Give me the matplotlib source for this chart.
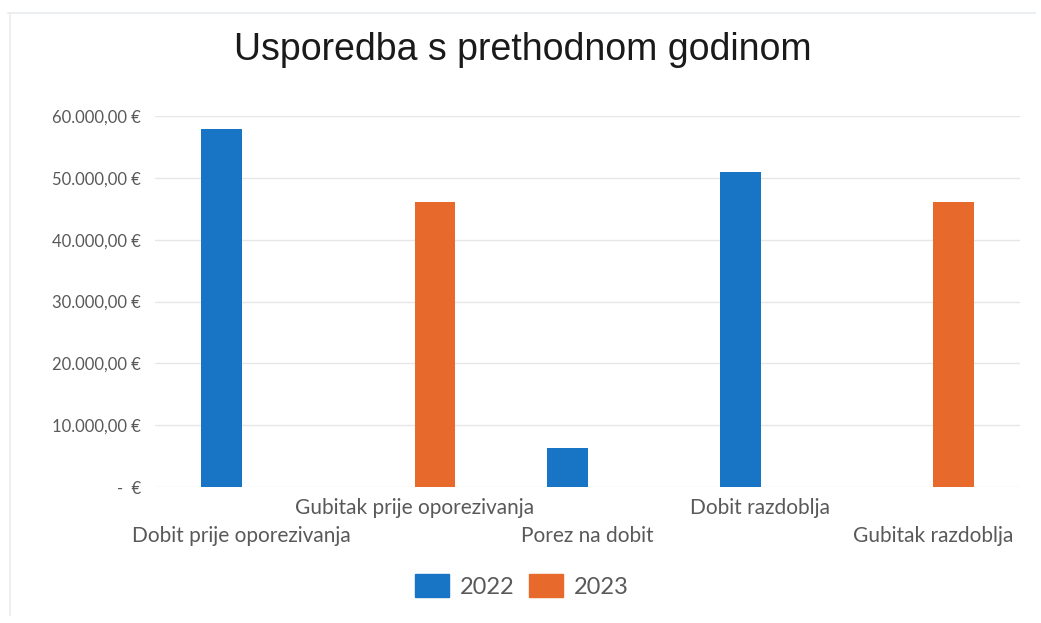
import matplotlib.pyplot as plt
import matplotlib.transforms as mtransforms
from matplotlib.patches import Rectangle
from matplotlib.lines import Line2D
import numpy as np

categories = ["Dobit prije oporezivanja", "Gubitak prije oporezivanja", "Porez na dobit",
              "Dobit razdoblja", "Gubitak razdoblja"]
series_names = ["2022", "2023"]
values_2022 = [57850, 0, 6360, 50990, 0]
values_2023 = [0, 46040, 0, 0, 46040]
y_ticks = [0, 10000, 20000, 30000, 40000, 50000, 60000]
y_tick_labels = ["-  €", "10.000,00 €", "20.000,00 €", "30.000,00 €", "40.000,00 €",
                 "50.000,00 €", "60.000,00 €"]
title = "Usporedba s prethodnom godinom"

blue = "#1874c4"
orange = "#e8692c"
W, H = 1041, 623
fig = plt.figure(figsize=(W / 100, H / 100), dpi=100)
fig.patch.set_facecolor("white")

ax = fig.add_axes([155 / W, 1 - 487 / H, (1020 - 155) / W, (487 - 116) / H])
x = np.arange(len(categories))
bw = 0.235
ax.bar(x - bw / 2, values_2022, bw, color=blue, label=series_names[0])
ax.bar(x + bw / 2, values_2023, bw, color=orange, label=series_names[1])
ax.set_xlim(-0.5, len(categories) - 0.5)
ax.set_ylim(0, 60000)
ax.set_yticks(y_ticks)
ax.set_yticklabels(y_tick_labels, fontsize=12, color="#595959", family="Lato")
ax.tick_params(axis="y", length=0, pad=10)
ax.tick_params(axis="x", length=0)
ax.set_xticks([])
ax.grid(axis="y", color="#e6e6e6", linewidth=1)
ax.set_axisbelow(True)
for s in ax.spines.values():
    s.set_visible(False)

# staggered category labels
blend = mtransforms.blended_transform_factory(ax.transData, fig.transFigure)
for i, c in enumerate(categories):
    ypix = 508 if i % 2 == 1 else 536
    ax.text(i, 1 - ypix / H, c, transform=blend,
            ha="center", va="center", fontsize=15, color="#595959", family="Lato")

fig.text(523 / W, 1 - 50 / H, title, ha="center", va="center", fontsize=27,
         color="#1a1a1a", family="Liberation Sans")

# legend
fig.legend(handles=[Rectangle((0, 0), 1, 1, color=blue), Rectangle((0, 0), 1, 1, color=orange)],
           labels=series_names, loc="center", bbox_to_anchor=(522 / W, 1 - 586 / H),
           ncol=2, frameon=False, handlelength=1.44, handleheight=1.06,
           handletextpad=0.47, columnspacing=0.6, prop={"family": "Lato", "size": 17},
           labelcolor="#595959")

# faint chart frame
fig.add_artist(Line2D([8 / W, 1035 / W], [1 - 13 / H, 1 - 13 / H], color="#e8ecef", lw=1.2))
fig.add_artist(Line2D([10 / W, 10 / W], [1 - 13 / H, 1 - 615 / H], color="#e8ecef", lw=1.2))

fig.savefig("out.png", dpi=100, facecolor="white")
